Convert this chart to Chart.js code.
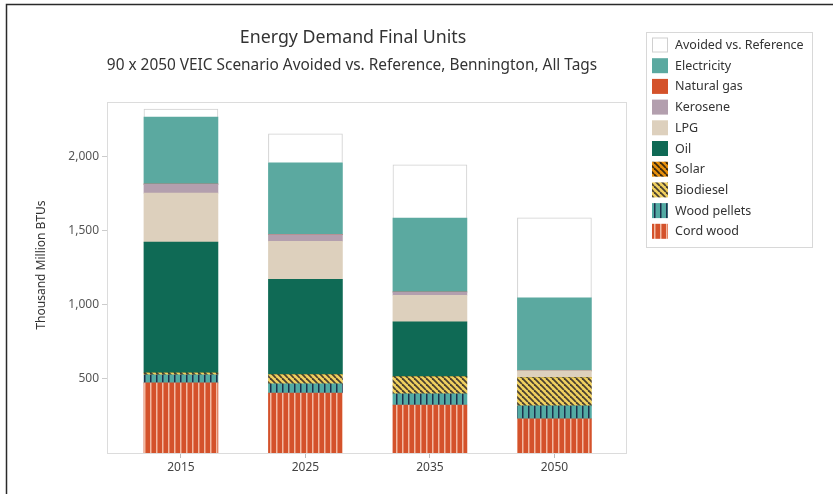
<!DOCTYPE html>
<html lang="en">
<head>
<meta charset="UTF-8">
<title>Energy Demand Final Units</title>
<script src="https://cdn.jsdelivr.net/npm/chart.js"></script>
<style>
  html, body { margin: 0; padding: 0; background: #fff; }
</style>
</head>
<body>
<canvas id="grafico" width="833" height="494"></canvas>
<script>
// anos (categorias) e valores de cada fonte, em Thousand Million BTUs
const anos = ['2015', '2025', '2035', '2050'];
const cordWood = [473, 405, 324, 230];
const woodPellets = [54, 62, 75, 88];
const biodiesel = [12, 60, 115, 189];
const solar = [0, 0, 0, 0];
const oil = [885, 645, 371, 0];
const lpg = [331, 258, 180, 47];
const kerosene = [61, 45, 22, 0];
const naturalGas = [0, 0, 0, 0];
const electricity = [453, 485, 500, 493];
const avoided = [54, 195, 358, 541];
const yTicks = [500, 1000, 1500, 2000];

const fonte = '"Noto Sans", "Open Sans", sans-serif';

// cria um padrao listrado (vertical ou diagonal) num canvas pequeno
function padrao(fundo, linha, tipo) {
    const c = document.createElement('canvas');
    c.width = 6;
    c.height = 6;
    const g = c.getContext('2d');
    g.fillStyle = fundo;
    g.fillRect(0, 0, 6, 6);
    g.strokeStyle = linha;
    g.fillStyle = linha;
    if (tipo === 'v') {
        g.fillRect(0, 0, 1.5, 6);
    } else {
        g.lineWidth = 1.8;
        for (let x = -6; x <= 6; x += 6) {
            g.beginPath();
            g.moveTo(x, 0);
            g.lineTo(x + 6, 6);
            g.stroke();
        }
    }
    return g.createPattern(c, 'repeat');
}

function pontos(valores) {
    return valores.map((v, i) => ({ x: i, y: v }));
}

const series = [
    { label: 'Cord wood', data: cordWood, cor: padrao('#d4522b', '#f2b9a2', 'v') },
    { label: 'Wood pellets', data: woodPellets, cor: padrao('#52aaa3', '#1d2f4c', 'v') },
    { label: 'Biodiesel', data: biodiesel, cor: padrao('#f1d15f', '#4a4030', 'd') },
    { label: 'Solar', data: solar, cor: padrao('#e8900c', '#3d2a10', 'd') },
    { label: 'Oil', data: oil, cor: '#0f6a55' },
    { label: 'LPG', data: lpg, cor: '#ddd0bd' },
    { label: 'Kerosene', data: kerosene, cor: '#b39fae' },
    { label: 'Natural gas', data: naturalGas, cor: '#d4522b' },
    { label: 'Electricity', data: electricity, cor: '#5ba9a0' },
    { label: 'Avoided vs. Reference', data: avoided, cor: '#ffffff', borda: '#d0d0d0' }
];

const datasets = series.map(s => ({
    label: s.label,
    data: pontos(s.data),
    backgroundColor: s.cor,
    borderColor: s.borda || s.cor,
    borderWidth: s.borda ? 1 : 0,
    barThickness: 74
}));

// moldura, titulos e legenda desenhados a mao
const molduraPlugin = {
    id: 'moldura',
    beforeDatasetsDraw(chart) {
        const { ctx, chartArea: a } = chart;
        ctx.save();
        ctx.strokeStyle = '#dcdcdc';
        ctx.lineWidth = 1;
        ctx.strokeRect(a.left + 0.5, a.top + 0.5, a.right - a.left - 1, a.bottom - a.top);
        ctx.restore();
    },
    afterDraw(chart) {
        const ctx = chart.ctx;
        ctx.save();

        // borda externa (esquerda e topo)
        ctx.strokeStyle = '#2a2a2a';
        ctx.lineWidth = 1.5;
        ctx.beginPath();
        ctx.moveTo(6.5, 494);
        ctx.lineTo(6.5, 4.5);
        ctx.lineTo(833, 4.5);
        ctx.stroke();

        // titulos
        ctx.fillStyle = '#333';
        ctx.textAlign = 'center';
        ctx.textBaseline = 'middle';
        ctx.font = '17.8px ' + fonte;
        ctx.fillText('Energy Demand Final Units', 353, 38);
        ctx.font = '15.4px ' + fonte;
        ctx.fillText('90 x 2050 VEIC Scenario Avoided vs. Reference, Bennington, All Tags', 352, 66);

        // titulo do eixo y
        ctx.save();
        ctx.translate(42, 265);
        ctx.rotate(-Math.PI / 2);
        ctx.font = '12px ' + fonte;
        ctx.fillStyle = '#333';
        ctx.fillText('Thousand Million BTUs', 0, 0);
        ctx.restore();

        // legenda
        ctx.strokeStyle = '#d8d8d8';
        ctx.lineWidth = 1;
        ctx.strokeRect(646.5, 32.5, 166, 215);
        ctx.textAlign = 'left';
        ctx.font = '12.5px ' + fonte;
        const itens = datasets.slice().reverse();
        itens.forEach((d, i) => {
            const y = 45 + i * 20.7;
            ctx.fillStyle = d.backgroundColor;
            ctx.fillRect(652, y - 7.5, 16, 15);
            if (d.borderWidth) {
                ctx.strokeStyle = d.borderColor;
                ctx.strokeRect(652.5, y - 7, 15, 14);
            }
            ctx.fillStyle = '#333';
            ctx.fillText(d.label, 675, y + 0.5);
        });
        ctx.restore();
    }
};

new Chart(document.getElementById('grafico'), {
    type: 'bar',
    data: { datasets: datasets },
    plugins: [molduraPlugin],
    options: {
        responsive: false,
        animation: false,
        layout: { padding: { top: 102, right: 206, left: 0, bottom: 0 } },
        plugins: {
            legend: { display: false },
            title: { display: false },
            tooltip: { enabled: false }
        },
        scales: {
            x: {
                type: 'linear',
                stacked: true,
                offset: false,
                min: -0.594,
                max: 3.583,
                afterFit(s) { s.height = 41; },
                afterBuildTicks(s) { s.ticks = anos.map((a, i) => ({ value: i })); },
                ticks: {
                    autoSkip: false,
                    maxRotation: 0,
                    padding: 2,
                    color: '#444',
                    font: { family: fonte, size: 12 },
                    callback: v => anos[v] ?? ''
                },
                grid: { offset: false, drawOnChartArea: false, tickLength: 5, color: '#bbb' },
                border: { display: false }
            },
            y: {
                stacked: true,
                min: 0,
                max: 2370,
                afterFit(s) { s.width = 107; },
                afterBuildTicks(s) { s.ticks = yTicks.map(v => ({ value: v })); },
                ticks: {
                    padding: 3,
                    color: '#555',
                    font: { family: fonte, size: 12 },
                    callback: v => v.toLocaleString('en-US')
                },
                grid: { drawOnChartArea: false, tickLength: 5, color: '#ccc' },
                border: { display: false }
            }
        }
    }
});
</script>
</body>
</html>
